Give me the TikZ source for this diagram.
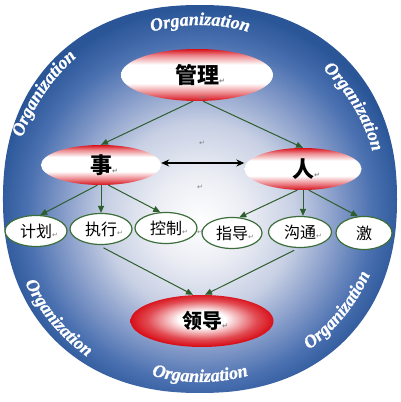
\documentclass[tikz,border=0pt]{standalone}
\usepackage{fontspec}
\newfontfamily\cjk{Noto Sans CJK SC}
\newfontfamily\orgfont{Liberation Serif}[BoldItalicFeatures={FakeBold=1.2}]
\newfontfamily\symfont{DejaVu Sans}
\usetikzlibrary{shapes.geometric,arrows.meta,decorations.text}
\definecolor{rd}{HTML}{D8101A}
\definecolor{agreen}{HTML}{2E5E2E}
\definecolor{gborder}{HTML}{3C6E3C}
\definecolor{bgA}{HTML}{EBEDF4}
\definecolor{bgB}{HTML}{C8D0E4}
\definecolor{bgC}{HTML}{8A9FCB}
\definecolor{bgD}{HTML}{4A70B0}
\definecolor{bgE}{HTML}{2A5698}
\pgfdeclareverticalshading{redband}{100bp}{color(0bp)=(rd); color(25bp)=(rd); color(32bp)=(rd!55!white); color(42bp)=(white); color(60bp)=(white); color(69bp)=(rd!50!white); color(75bp)=(rd); color(100bp)=(rd)}
\pgfdeclareradialshading{redradial}{\pgfpoint{0bp}{2bp}}{color(0bp)=(white); color(8bp)=(white); color(19bp)=(rd!75!white); color(25bp)=(rd); color(50bp)=(rd)}
\pgfdeclareradialshading{bgsh}{\pgfpoint{0bp}{-3bp}}{color(0bp)=(white); color(6bp)=(bgA); color(12bp)=(bgB); color(17bp)=(bgC); color(22bp)=(bgD); color(26bp)=(bgE); color(50bp)=(bgE)}
\newcommand{\ret}{\rlap{\symfont\fontsize{7}{7}\selectfont\color{gray}↵}}
\tikzset{
  bignode/.style={ellipse, inner sep=0pt, font=\cjk\bfseries\fontsize{22}{22}\selectfont},
  smallnode/.style={ellipse, draw=gborder, line width=1.2pt, fill=white, inner sep=0pt, minimum width=62pt, minimum height=31pt, font=\cjk\fontsize{16}{16}\selectfont},
  garrow/.style={draw=agreen, line width=1pt, -{Triangle[length=7pt,width=6pt]}},
  barrow/.style={draw=black, line width=1.2pt, {Stealth[length=8pt,width=7pt]}-{Stealth[length=8pt,width=7pt]}},
  retmark/.style={inner sep=0pt, font=\symfont\fontsize{7}{7}\selectfont, text=gray},
  orgtext/.style={decorate, decoration={text along path, text={|\orgfont\bfseries\itshape\fontsize{18}{18}\selectfont|Organization}, text align=center, text color=white}}
}
\begin{document}
\begin{tikzpicture}[x=1pt,y=1pt]
\useasboundingbox (0,0) rectangle (400,402);
\coordinate (C) at (200,203);
\shade[shading=bgsh] plot[domain=0:360, samples=180, smooth, variable=\t]
  ({200+197*sign(cos(\t))*pow(abs(cos(\t)),0.9)}, {203+194*sign(sin(\t))*pow(abs(sin(\t)),0.9)}) -- cycle;
% Organization texts
\path[orgtext] ([shift={(126:174)}]C) arc[start angle=126, end angle=54, radius=174];
\path[orgtext] ([shift={(182:188)}]C) arc[start angle=182, end angle=110, radius=188];
\path[orgtext] ([shift={(67:179)}]C) arc[start angle=67, end angle=-5, radius=179];
\path[orgtext] ([shift={(184:194)}]C) arc[start angle=184, end angle=256, radius=194];
\path[orgtext] ([shift={(234:183)}]C) arc[start angle=234, end angle=306, radius=183];
\path[orgtext] ([shift={(285:186)}]C) arc[start angle=285, end angle=357, radius=186];
% main nodes
\node[bignode, shading=redband, minimum width=152pt, minimum height=52pt] (gl) at (197,327) {管理\ret};
\node[bignode, shading=redband, minimum width=120pt, minimum height=40pt] (shi) at (101,237) {事\ret};
\node[bignode, shading=redband, minimum width=117pt, minimum height=42pt] (ren) at (303,233) {人\ret};
\node[bignode, shading=redradial, minimum width=143pt, minimum height=52pt, font=\cjk\bfseries\fontsize{20}{20}\selectfont] (ld) at (202,81) {领导\ret};
\node[smallnode] (jh) at (36,171) {计划\ret};
\node[smallnode] (zx) at (101,173) {执行\ret};
\node[smallnode] (kz) at (166,174) {控制\ret};
\node[smallnode, minimum width=60pt] (zd) at (232,169) {指导\ret};
\node[smallnode, minimum width=63pt] (gt) at (300,170) {沟通\ret};
\node[smallnode, minimum width=56pt, minimum height=33pt] (ji) at (364,169) {激};
% stray paragraph marks
\node[retmark] (r1) at (203,304) {↵};
\node[retmark] (r2) at (202,259) {↵};
\node[retmark] (r3) at (200,215) {↵};
\node[retmark] (r4) at (200,170) {↵};
% connectors
\draw[garrow] ([xshift=-4pt]gl.south) -- (shi.north);
\draw[garrow] ([xshift=6pt]gl.south) -- (ren.north);
\draw[garrow] (shi.-100) -- (jh.75);
\draw[garrow] (shi.south) -- (zx.north);
\draw[garrow] (shi.-70) -- (kz.110);
\draw[garrow] (ren.-105) -- (zd.65);
\draw[garrow] (ren.south) -- (ren.south |- gt.north);
\draw[garrow] (ren.-75) -- (ji.110);
\draw[barrow] ([yshift=2pt]shi.east) -- ([yshift=2pt]shi.east -| ren.west);
\draw[garrow, shorten <=6pt] (zx.-100) -- ([xshift=-9pt]ld.north);
\draw[garrow, shorten <=5pt] (gt.-95) -- ([xshift=3pt]ld.north);
\end{tikzpicture}
\end{document}
